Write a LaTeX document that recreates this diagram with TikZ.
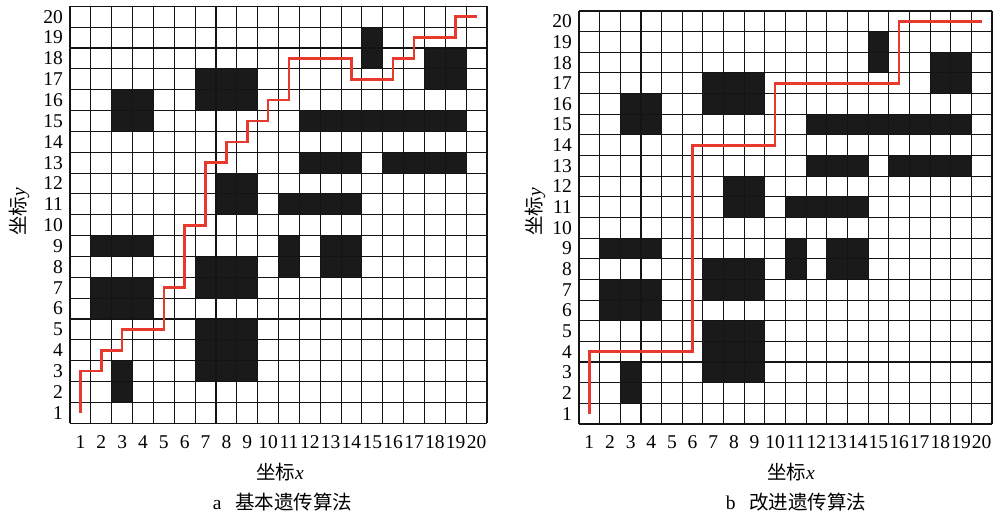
\documentclass[tikz,border=0pt]{standalone}
\usepackage{fontspec}
\setmainfont{Liberation Serif}
\newfontfamily\cjk{Noto Sans CJK SC}
\definecolor{pathred}{HTML}{E8392F}
\definecolor{obstcol}{HTML}{1A1A1A}
\tikzset{
  gridln/.style={line width=1.1pt, draw=black!92},
  obst/.style={fill=obstcol},
  route/.style={line width=2.6pt, draw=pathred, line join=miter},
  ylab/.style={anchor=east, xshift=-7pt, inner sep=0pt, font=\fontsize{19.5}{20}\selectfont},
  xlab/.style={anchor=center, yshift=-18.5pt, inner sep=0pt, font=\fontsize{19.5}{20}\selectfont},
  title/.style={inner sep=0pt, font=\fontsize{19.5}{20}\selectfont},
}
\newcommand\obstacles{%
  \fill[obst] (2,1) rectangle (3,3);
  \fill[obst] (1,5) rectangle (4,7);
  \fill[obst] (1,8) rectangle (4,9);
  \fill[obst] (2,14) rectangle (4,16);
  \fill[obst] (6,15) rectangle (9,17);
  \fill[obst] (7,10) rectangle (9,12);
  \fill[obst] (6,2) rectangle (9,5);
  \fill[obst] (6,6) rectangle (9,8);
  \fill[obst] (10,10) rectangle (14,11);
  \fill[obst] (11,12) rectangle (14,13);
  \fill[obst] (15,12) rectangle (19,13);
  \fill[obst] (11,14) rectangle (19,15);
  \fill[obst] (17,16) rectangle (19,18);
  \fill[obst] (14,17) rectangle (15,19);
  \fill[obst] (10,7) rectangle (11,9);
  \fill[obst] (12,7) rectangle (14,9);
  \foreach \k in {0,...,20}{
    \draw[gridln] (\k,0) -- (\k,20);
    \draw[gridln] (0,\k) -- (20,\k);
  }
}
\newcommand\axislabels[1]{%
  \foreach \j in {1,...,20}{
    \node[ylab] (#1y\j) at (0,\j-0.5) {\j};
    \node[xlab] (#1x\j) at (\j-0.5,0) {\j};
  }
}
\begin{document}
\begin{tikzpicture}[x=1pt,y=1pt]
  \fill[white] (0,0) rectangle (995,516);
  \useasboundingbox (0,0) rectangle (995,516);
  % left panel
  \begin{scope}[shift={(70pt,92.7pt)}, x=20.85pt, y=20.85pt]
    \obstacles
    \axislabels{a}
    \draw[route] (0.5,0.5) -- (0.5,2.5) -- (1.5,2.5) -- (1.5,3.5) -- (2.5,3.5)
      -- (2.5,4.5) -- (4.5,4.5) -- (4.5,6.5) -- (5.5,6.5) -- (5.5,9.5)
      -- (6.5,9.5) -- (6.5,12.5) -- (7.5,12.5) -- (7.5,13.5) -- (8.5,13.5)
      -- (8.5,14.5) -- (9.5,14.5) -- (9.5,15.5) -- (10.5,15.5) -- (10.5,17.5)
      -- (13.5,17.5) -- (13.5,16.5) -- (15.5,16.5) -- (15.5,17.5) -- (16.5,17.5)
      -- (16.5,18.5) -- (18.5,18.5) -- (18.5,19.5) -- (19.5,19.5);
  \end{scope}
  % right panel
  \begin{scope}[shift={(579pt,92pt)}, x=20.65pt, y=20.65pt]
    \obstacles
    \axislabels{b}
    \draw[route] (0.5,0.5) -- (0.5,3.5) -- (5.5,3.5) -- (5.5,13.5) -- (9.5,13.5)
      -- (9.5,16.5) -- (15.5,16.5) -- (15.5,19.5) -- (19.5,19.5);
  \end{scope}
  % titles
  \node[title] (axa) at (280,44) {{\cjk 坐标}\textit{x}};
  \node[title] (axb) at (791,44) {{\cjk 坐标}\textit{x}};
  \node[title, rotate=90] (aya) at (19,304) {{\cjk 坐标}\textit{y}};
  \node[title, rotate=90] (ayb) at (535,304) {{\cjk 坐标}\textit{y}};
  \node[title] (capa) at (282.5,14) {a\hspace{0.7em}{\cjk 基本遗传算法}};
  \node[title] (capb) at (796,14) {b\hspace{0.7em}{\cjk 改进遗传算法}};
\end{tikzpicture}
\end{document}
